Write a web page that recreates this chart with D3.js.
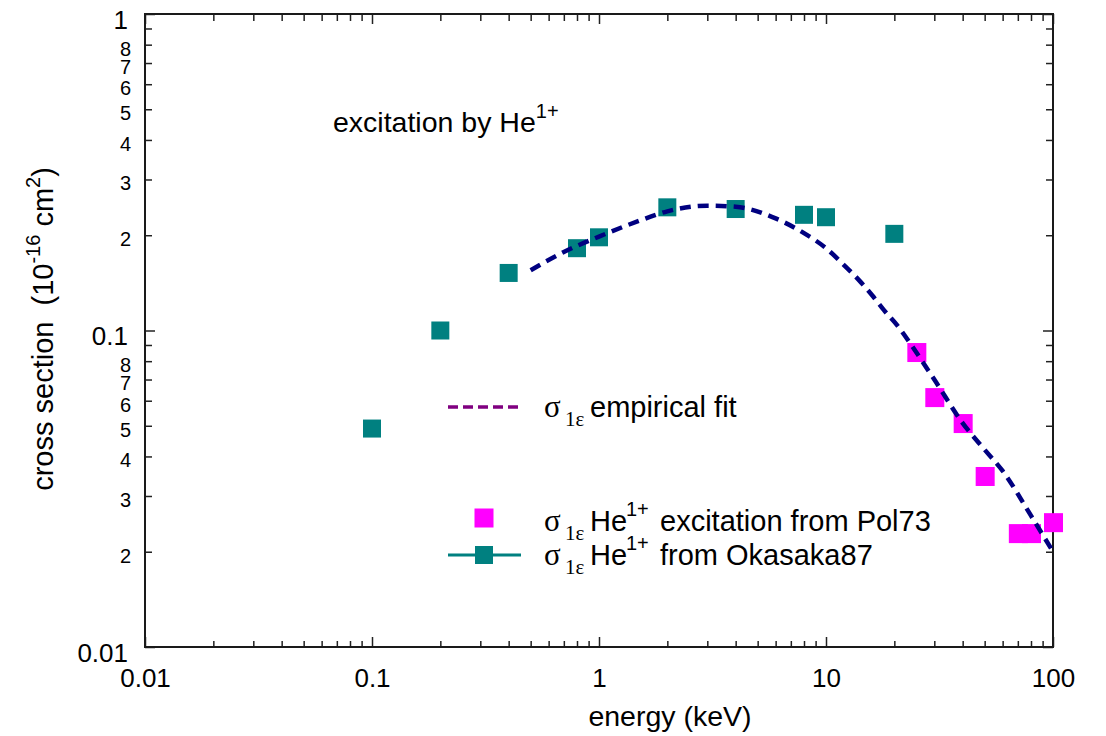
<!DOCTYPE html>
<html>
<head>
<meta charset="utf-8">
<script src="https://cdn.jsdelivr.net/npm/d3@7"></script>
<style>
  body { margin: 0; background: #fff; }
  text { font-family: "Liberation Sans", Arial, sans-serif; }
  .serif { font-family: "Liberation Serif", "Times New Roman", serif; }
</style>
</head>
<body>
<div id="chart"></div>
<script>
// Okasaka87 (teal squares)
const okaE = [0.1, 0.2, 0.4, 0.8, 1, 2, 4, 8, 10, 20];
const okaS = [0.049, 0.1, 0.152, 0.182, 0.197, 0.245, 0.242, 0.232, 0.228, 0.202];

// Pol73 (magenta squares)
const polE = [25, 30, 40, 50, 70, 80, 100];
const polS = [0.0855, 0.0616, 0.051, 0.0347, 0.0229, 0.0229, 0.0248];

// empirical fit (dashed curve)
const fitE = [0.5, 0.7, 1, 1.5, 2, 3, 4, 6, 8, 10, 12, 14, 16, 18, 21, 24, 30, 40, 50, 60, 80, 100];
const fitS = [0.155, 0.177, 0.198, 0.222, 0.238, 0.248, 0.246, 0.226, 0.203, 0.182, 0.161, 0.144,
              0.129, 0.116, 0.102, 0.089, 0.070, 0.051, 0.042, 0.036, 0.026, 0.020];

const xMajor = [0.01, 0.1, 1, 10, 100];
const xMajorLabels = ["0.01", "0.1", "1", "10", "100"];
const yMajor = [0.01, 0.1, 1];
const yMajorLabels = ["0.01", "0.1", "1"];
const yMinorDigits = ["2", "3", "4", "5", "6", "7", "8", ""];

var margin = { top: 14, right: 53, bottom: 89, left: 145 },
    W = 1106, H = 736,
    width = W - margin.left - margin.right,
    height = H - margin.top - margin.bottom;

var svg = d3.select("#chart").append("svg")
    .attr("width", W)
    .attr("height", H);

var g = svg.append("g")
    .attr("transform", "translate(" + margin.left + "," + margin.top + ")");

var x = d3.scaleLog().domain([0.01, 100]).range([0, width]);
var y = d3.scaleLog().domain([0.01, 1]).range([height, 0]);

var isMajor = function (v, list) {
    return list.some(function (m) { return Math.abs(v / m - 1) < 1e-6; });
};
var xMinor = x.ticks().filter(function (v) { return !isMajor(v, xMajor); });
var yMinor = y.ticks().filter(function (v) { return !isMajor(v, yMajor); });

function styleAxis(sel) {
    sel.select(".domain").remove();
    sel.selectAll("line").attr("stroke", "#222").attr("stroke-width", 1.5);
}

// bottom
g.append("g").attr("transform", "translate(0," + height + ")")
    .call(d3.axisBottom(x).tickValues(xMinor).tickSize(-6).tickFormat(""))
    .call(styleAxis);
g.append("g").attr("transform", "translate(0," + height + ")")
    .call(d3.axisBottom(x).tickValues(xMajor).tickSize(-10).tickPadding(22)
        .tickFormat(function (d, i) { return xMajorLabels[i]; }))
    .call(styleAxis)
    .selectAll("text")
    .style("font-family", "Liberation Sans, Arial, sans-serif")
    .style("font-size", "26px").attr("fill", "#000");

// top
g.append("g")
    .call(d3.axisTop(x).tickValues(xMinor).tickSize(-7).tickFormat(""))
    .call(styleAxis);
g.append("g")
    .call(d3.axisTop(x).tickValues(xMajor).tickSize(-10).tickFormat(""))
    .call(styleAxis);

// left
g.append("g")
    .call(d3.axisLeft(y).tickValues(yMinor).tickSize(-7).tickPadding(14)
        .tickFormat(function (d) {
            var m = Math.round(d / Math.pow(10, Math.floor(Math.log10(d) + 1e-9)));
            return yMinorDigits[m - 2];
        }))
    .call(styleAxis)
    .selectAll("text")
    .style("font-family", "Liberation Sans, Arial, sans-serif")
    .style("font-size", "20px").attr("dy", "0.52em").attr("fill", "#000");
g.append("g")
    .call(d3.axisLeft(y).tickValues(yMajor).tickSize(-10).tickPadding(17)
        .tickFormat(function (d, i) { return yMajorLabels[i]; }))
    .call(styleAxis)
    .selectAll("text")
    .style("font-family", "Liberation Sans, Arial, sans-serif")
    .style("font-size", "26px").attr("dy", "0.55em").attr("fill", "#000");

// right
g.append("g").attr("transform", "translate(" + width + ",0)")
    .call(d3.axisRight(y).tickValues(yMinor).tickSize(-7).tickFormat(""))
    .call(styleAxis);
g.append("g").attr("transform", "translate(" + width + ",0)")
    .call(d3.axisRight(y).tickValues(yMajor).tickSize(-10).tickFormat(""))
    .call(styleAxis);

// frame
g.append("rect")
    .attr("x", 0).attr("y", 0)
    .attr("width", width).attr("height", height)
    .attr("fill", "none").attr("stroke", "#1a1a1a").attr("stroke-width", 2);

// markers
var sq = 18;
g.selectAll(".oka")
    .data(okaE.map(function (e, i) { return [e, okaS[i]]; }))
    .enter().append("rect")
    .attr("x", function (d) { return x(d[0]) - sq / 2; })
    .attr("y", function (d) { return y(d[1]) - sq / 2; })
    .attr("width", sq).attr("height", sq)
    .attr("fill", "#008080");

g.selectAll(".pol")
    .data(polE.map(function (e, i) { return [e, polS[i]]; }))
    .enter().append("rect")
    .attr("x", function (d) { return x(d[0]) - sq / 2; })
    .attr("y", function (d) { return y(d[1]) - sq / 2; })
    .attr("width", sq + 1).attr("height", sq + 1)
    .attr("fill", "#ff00ff");

// fit curve
var line = d3.line()
    .x(function (d) { return x(d[0]); })
    .y(function (d) { return y(d[1]); })
    .curve(d3.curveMonotoneX);
g.append("path")
    .datum(fitE.map(function (e, i) { return [e, fitS[i]]; }))
    .attr("d", line)
    .attr("fill", "none")
    .attr("stroke", "#000080")
    .attr("stroke-width", 4.5)
    .attr("stroke-dasharray", "11,7");

// annotation
var ann = svg.append("text").attr("x", 333).attr("y", 132)
    .style("font-size", "28.5px").attr("fill", "#000");
ann.append("tspan").text("excitation by He");
ann.append("tspan").attr("dy", -14).style("font-size", "20px").text("1+");

// legend
svg.append("line")
    .attr("x1", 448).attr("x2", 521).attr("y1", 407).attr("y2", 407)
    .attr("stroke", "#800080").attr("stroke-width", 3.5)
    .attr("stroke-dasharray", "10,5");
svg.append("rect")
    .attr("x", 484 - 9.5).attr("y", 518 - 9.5).attr("width", 19).attr("height", 19)
    .attr("fill", "#ff00ff");
svg.append("line")
    .attr("x1", 448).attr("x2", 521).attr("y1", 555).attr("y2", 555)
    .attr("stroke", "#008080").attr("stroke-width", 3);
svg.append("rect")
    .attr("x", 484 - 9).attr("y", 555 - 9).attr("width", 18).attr("height", 18)
    .attr("fill", "#008080");

function legendText(base, withHe, rest) {
    svg.append("text").attr("class", "serif").attr("fill", "#000")
        .attr("x", 544).attr("y", base)
        .style("font-size", "31px").text("σ");
    svg.append("text").attr("class", "serif").attr("fill", "#000")
        .attr("x", 565).attr("y", base + 9)
        .style("font-size", "21px").text("1ε");
    var t = svg.append("text").attr("fill", "#000");
    if (withHe) {
        t.append("tspan").attr("x", 590).attr("y", base).style("font-size", "29px").text("He");
        t.append("tspan").attr("x", 626).attr("y", base - 15).style("font-size", "20px").text("1+");
        t.append("tspan").attr("x", 660).attr("y", base).style("font-size", "29px").text(rest);
    } else {
        t.append("tspan").attr("x", 590).attr("y", base).style("font-size", "29px").text(rest);
    }
}
legendText(417, false, "empirical fit");
legendText(531, true, "excitation from Pol73");
legendText(565, true, "from Okasaka87");

// axis titles
svg.append("text")
    .attr("x", margin.left + x(1) + 71).attr("y", 726)
    .attr("text-anchor", "middle")
    .style("font-size", "28.5px").attr("fill", "#000")
    .text("energy (keV)");

var yt = svg.append("text")
    .attr("transform", "translate(53,329) rotate(-90)")
    .attr("text-anchor", "middle")
    .style("font-size", "29px").style("white-space", "pre").attr("fill", "#000");
yt.append("tspan").text("cross section  (10");
yt.append("tspan").attr("dy", -13).style("font-size", "20px").text("-16");
yt.append("tspan").attr("dy", 13).text(" cm");
yt.append("tspan").attr("dy", -13).style("font-size", "20px").text("2");
yt.append("tspan").attr("dy", 13).text(")");
</script>
</body>
</html>
